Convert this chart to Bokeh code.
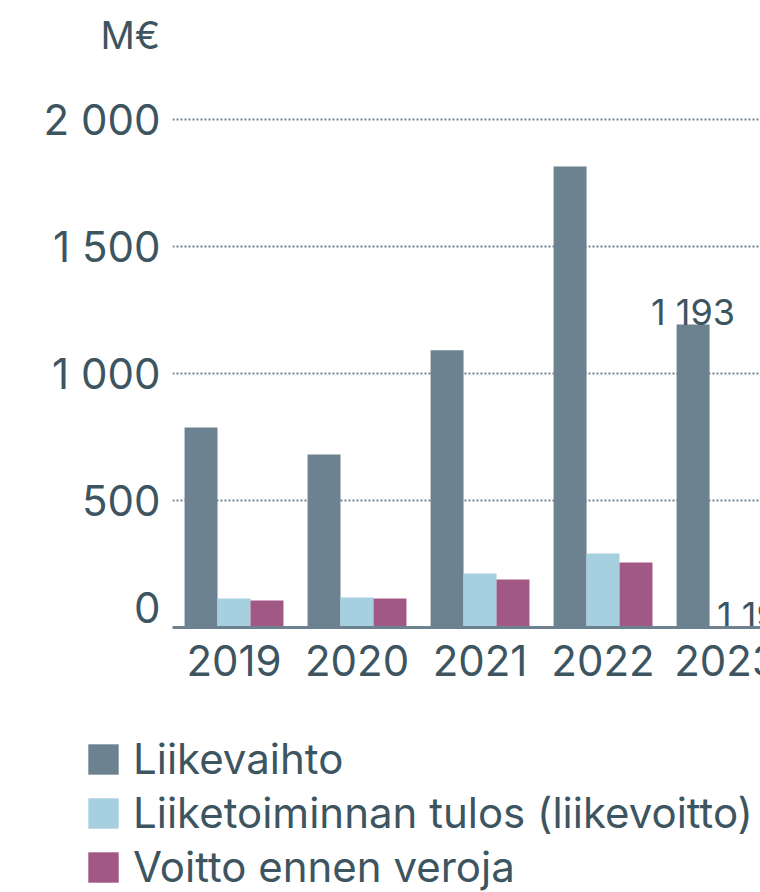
from bokeh.plotting import figure
from bokeh.models import (ColumnDataSource, Range1d, FixedTicker, Legend, LegendItem)
from bokeh.core.properties import value
from bokeh.embed import file_html
from bokeh.resources import INLINE

# ---- data ----
years = ["2019", "2020", "2021", "2022", "2023"]
liikevaihto = [787, 681, 1091, 1815, 1193]
liikevoitto = [114, 118, 213, 291, 0]
voitto_ennen_veroja = [106, 114, 189, 256, 0]
labels_liikevaihto = ["", "", "", "", "1 193"]
labels_voitto = ["", "", "", "", "1 193"]
y_ticks = [0, 500, 1000, 1500, 2000]
y_tick_labels = ["0", "500", "1 000", "1 500", "2 000"]
series_names = ["Liikevaihto", "Liiketoiminnan tulos (liikevoitto)", "Voitto ennen veroja"]
unit_label = "M€"

# ---- style ----
FONT = "Inter"
TEXT = "#3d5561"
C_LV = "#6c8290"
C_LT = "#a6cfe0"
C_VE = "#a25884"
COLORS = [C_LV, C_LT, C_VE]
BAR_W = 0.268

W = 760
H_CHART = 632
H_BOTTOM = 892 - H_CHART
BORDER_L = 172
X_START, X_END = -0.5, 4.28
units_per_px = (X_END - X_START) / (W - BORDER_L)

xs = list(range(len(years)))
src = ColumnDataSource(dict(
    x=xs,
    x_lv=[x - BAR_W for x in xs],
    x_lt=xs,
    x_ve=[x + BAR_W for x in xs],
    lv=liikevaihto, lt=liikevoitto, ve=voitto_ennen_veroja,
    lab_lv=labels_liikevaihto, lab_ve=labels_voitto,
    year=years,
))

p = figure(width=W, height=H_CHART, output_backend="svg", toolbar_location=None,
           x_range=Range1d(X_START, X_END), y_range=Range1d(0, 2244),
           min_border_left=BORDER_L, min_border_right=0, min_border_top=57,
           min_border_bottom=5, outline_line_color=None)
p.background_fill_color = "white"
p.border_fill_color = "white"

# unit title above the plot
p.title.text = unit_label
p.title.align = "left"
p.title.offset = -72
p.title.standoff = 0
p.title.vertical_align = "bottom"
p.title.text_font = FONT
p.title.text_font_size = "38px"
p.title.text_font_style = "normal"
p.title.text_color = TEXT

p.vbar(x="x_lv", top="lv", width=BAR_W, source=src, color=C_LV, line_color=None)
p.vbar(x="x_lt", top="lt", width=BAR_W, source=src, color=C_LT, line_color=None)
p.vbar(x="x_ve", top="ve", width=BAR_W, source=src, color=C_VE, line_color=None)

p.text(x="x_lv", y="lv", text="lab_lv", source=src, text_align="center",
       text_baseline="alphabetic", y_offset=-12, text_font=value(FONT),
       text_font_size="36px", text_color=TEXT)
p.text(x="x_ve", y="ve", text="lab_ve", source=src, text_align="center",
       text_baseline="alphabetic", y_offset=-13, text_font=value(FONT),
       text_font_size="36px", text_color=TEXT)

# axes (x category labels are drawn in the strip below so 2023 can run off the edge)
p.xaxis.ticker = FixedTicker(ticks=[])
p.xaxis.axis_line_color = C_LV
p.xaxis.axis_line_width = 3
p.xaxis.major_tick_line_color = None
p.xaxis.minor_tick_line_color = None
p.xaxis.major_label_standoff = 0

p.yaxis.ticker = FixedTicker(ticks=y_ticks)
p.yaxis.major_label_overrides = {t: l for t, l in zip(y_ticks, y_tick_labels)}
p.yaxis.axis_line_color = None
p.yaxis.major_tick_line_color = None
p.yaxis.minor_tick_line_color = None
p.yaxis.major_label_standoff = 6
p.yaxis.major_label_text_font = FONT
p.yaxis.major_label_text_font_size = "42px"
p.yaxis.major_label_text_color = TEXT

p.xgrid.grid_line_color = None
p.ygrid.grid_line_color = C_LV
p.ygrid.grid_line_width = 2
p.ygrid.grid_line_dash = "2 2"

# ---- strip below: category labels + legend ----
pl = figure(width=W, height=H_BOTTOM, output_backend="svg", toolbar_location=None,
            x_range=Range1d(X_START - BORDER_L * units_per_px, X_END),
            y_range=Range1d(H_BOTTOM, 0),
            min_border_left=0, min_border_right=0, min_border_top=0,
            min_border_bottom=0, outline_line_color=None,
            x_axis_location=None, y_axis_location=None)
pl.grid.visible = False
pl.background_fill_color = "white"
pl.border_fill_color = "white"
pl.extra_y_ranges = {"hidden": Range1d(10000, 20000)}

pl.text(x="x", y=0, text="year", source=src, text_align="center",
        text_baseline="alphabetic", y_offset=28, text_font=value(FONT),
        text_font_size="42px", text_color=TEXT)

items = []
for name, col, key, xk in zip(series_names, COLORS, ["lv", "lt", "ve"], ["x_lv", "x_lt", "x_ve"]):
    r = pl.vbar(x=xk, top=key, width=BAR_W, source=src, color=col, line_color=None,
                y_range_name="hidden")
    items.append(LegendItem(label=name, renderers=[r]))

legend = Legend(items=items, location=(84, 0), orientation="vertical",
                glyph_width=38, glyph_height=38, label_standoff=11,
                label_text_font=FONT, label_text_font_size="42px",
                label_text_color=TEXT, spacing=3, padding=0, margin=0,
                border_line_color=None, background_fill_alpha=0)
pl.add_layout(legend, "center")

open("out.html", "w").write(file_html([p, pl], INLINE))
